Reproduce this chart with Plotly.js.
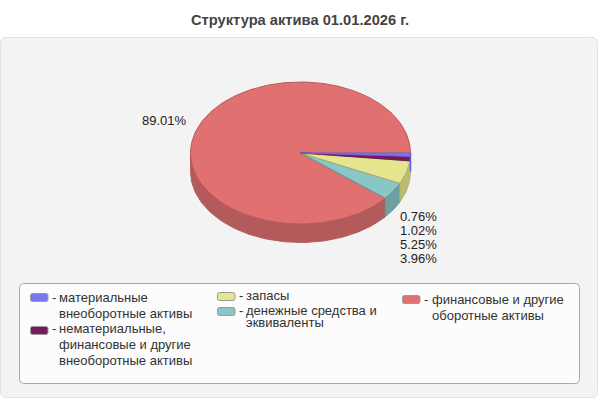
<!DOCTYPE html>
<html><head><meta charset="utf-8">
<script src="https://cdn.plot.ly/plotly-3.0.1.min.js"></script>
<style>html,body{margin:0;padding:0;background:#fff}#c{width:600px;height:400px}</style>
</head><body><div id="c"></div>
<script>
const categories = ['материальные внеоборотные активы','нематериальные, финансовые и другие внеоборотные активы','запасы','денежные средства и эквиваленты','финансовые и другие оборотные активы'];
const values = [0.76, 1.02, 5.25, 3.96, 89.01];
const valueLabels = ['0.76%','1.02%','5.25%','3.96%','89.01%'];
const titleText = 'Структура актива 01.01.2026 г.';
const topColors = ['#7878ee','#7a1a5a','#e5e68f','#8ac6c6','#e17070'];
const sideColors = ['#6a6ae8','#621548','#bcbc72','#6fa0a0','#b35a5a'];
const edgeColors = ['#6464e6','#6a1050','#b0b070','#5c9a9a','#b85a5e'];
const legendLines = [['материальные','внеоборотные активы'],['нематериальные,','финансовые и другие','внеоборотные активы'],['запасы'],['денежные средства и','эквиваленты'],['финансовые и другие','оборотные активы']];

const cx=300.5, cy=153, rx=110, ry=71, depth=18.5;
const total = values.reduce((a,b)=>a+b,0);
function pt(t,dy){const r=t*Math.PI/180;return [cx+rx*Math.cos(r), cy+ry*Math.sin(r)+(dy||0)];}
function arc(a,b,dy){const out=[];const n=Math.max(2,Math.ceil(Math.abs(b-a)/1.5));for(let i=0;i<=n;i++)out.push(pt(a+(b-a)*i/n,dy));return out;}
let acc=0; const spans=values.map(v=>{const a=acc;acc+=v/total*360;return [a,acc];});
const traces=[];
function poly(points,fill,line,name,w){traces.push({type:'scatter',mode:'lines',x:points.map(p=>p[0]),y:points.map(p=>p[1]),fill:'toself',fillcolor:fill,line:{color:line,width:w===undefined?1:w},hoverinfo:'skip',showlegend:false,name:name});}
// side walls, back to front; the two thinnest slices show only as the blue edge
for(let i=values.length-1;i>=2;i--){
  const a=i===2?0:spans[i][0], b=Math.min(spans[i][1],180);
  const top=arc(a,b,0), bot=arc(b,a,depth);
  poly(top.concat(bot,[top[0]]),sideColors[i],edgeColors[i],categories[i]);
}
// top faces
for(let i=values.length-1;i>=0;i--){
  const [a,b]=spans[i];
  const p=[[cx,cy]].concat(arc(a,b,0),[[cx,cy]]);
  poly(p,topColors[i],edgeColors[i],categories[i],i<2?0.8:1);
}
// blue front edge at the start of the first slice
traces.push({type:'scatter',mode:'lines',x:[pt(0,0)[0],pt(0,depth)[0]],y:[pt(0,0)[1],pt(0,depth)[1]],line:{color:edgeColors[0],width:1.6},hoverinfo:'skip',showlegend:false,name:categories[0]});

function rr(x0,y0,x1,y1,r){return `M${x0+r},${y0} L${x1-r},${y0} Q${x1},${y0} ${x1},${y0+r} L${x1},${y1-r} Q${x1},${y1} ${x1-r},${y1} L${x0+r},${y1} Q${x0},${y1} ${x0},${y1-r} L${x0},${y0+r} Q${x0},${y0} ${x0+r},${y0} Z`;}
const shapes=[
 {type:'path',path:rr(0.5,37.5,597.5,397.5,6),fillcolor:'#f3f3f3',line:{color:'#e2e2e2',width:1},layer:'below'},
 {type:'path',path:rr(19.5,283.5,579.5,383.5,4),fillcolor:'#fcfcfc',line:{color:'#a8a8a8',width:1},layer:'below'}
];
const F='"Liberation Sans", Arial, sans-serif';
const annotations=[];
function txt(x,y,text,color,size){annotations.push({x:x,y:y,xref:'x',yref:'y',text:text,showarrow:false,xanchor:'left',yanchor:'middle',align:'left',borderpad:0,font:{family:F,size:size||13,color:color||'#333'}});}
// legend layout: swatch x, swatch y, text x, line centres
const legendPos=[
 {sx:30,sy:293,tx:58,ly:[297.5,313.5]},
 {sx:30,sy:326,tx:58,ly:[328.5,344.5,360.5]},
 {sx:217,sy:292,tx:245,ly:[295.5]},
 {sx:217,sy:307,tx:245,ly:[310.5,322.5]},
 {sx:402,sy:295,tx:431,ly:[299.5,315.5]}
];
legendPos.forEach((p,i)=>{
  shapes.push({type:'path',path:rr(p.sx+.5,p.sy+.5,p.sx+18,p.sy+8.5,2),fillcolor:topColors[i],line:{color:'#9a9a9a',width:1},layer:'above'});
  txt(p.sx+21,p.ly[0]-0.5,'-','#333');
  legendLines[i].forEach((l,j)=>txt(p.tx,p.ly[j],l,'#333'));
});
const labelY=[216.5,230.5,244.5,258.5];
for(let i=0;i<4;i++) txt(399,labelY[i],valueLabels[i],'#222',13);
txt(141,120.5,valueLabels[4],'#222',13);

const ax={range:[0,600],visible:false,fixedrange:true};
Plotly.newPlot('c',traces,{
  width:600,height:400,margin:{l:0,r:0,t:0,b:0},paper_bgcolor:'#fff',plot_bgcolor:'rgba(0,0,0,0)',
  showlegend:false,
  title:{text:titleText,x:0.5,xanchor:'center',y:0.95,yanchor:'middle',font:{family:F,size:14.7,color:'#444',weight:'bold'}},
  xaxis:ax,yaxis:{range:[400,0],visible:false,fixedrange:true},
  shapes:shapes,annotations:annotations
},{staticPlot:true,displayModeBar:false});
</script></body></html>
